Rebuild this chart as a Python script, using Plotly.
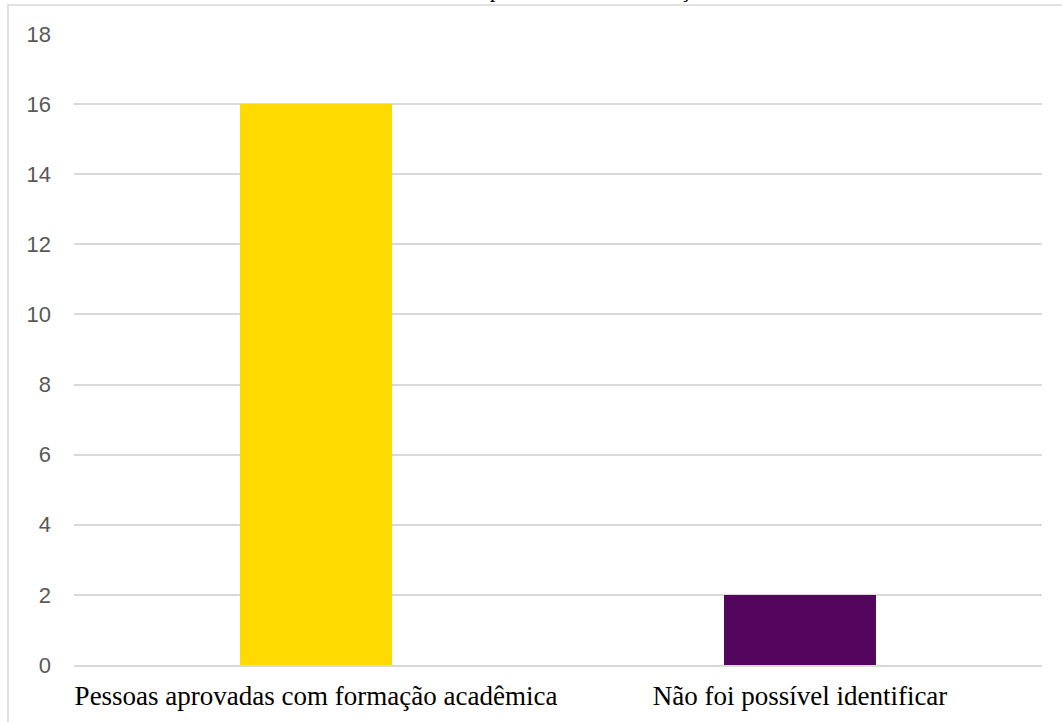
import plotly.graph_objects as go

categories = ["Pessoas aprovadas com formação acadêmica", "Não foi possível identificar"]
values = [16, 2]
bar_colors = ["#FFDA00", "#54065E"]
y_ticks = [0, 2, 4, 6, 8, 10, 12, 14, 16, 18]
title_text = "Número de aprovados com formação"

SERIF = "Times New Roman"

fig = go.Figure()
fig.add_trace(go.Bar(x=categories, y=values, marker=dict(color=bar_colors, line=dict(width=0)),
                     width=0.314, hoverinfo="x+y"))

fig.update_layout(
    width=1062, height=722,
    margin=dict(l=74, r=20, t=34, b=57),
    paper_bgcolor="white", plot_bgcolor="white",
    showlegend=False,
    font=dict(family=SERIF),
    xaxis=dict(showgrid=False, showline=True, linecolor="#d9d9d9", linewidth=1.5,
               tickfont=dict(family=SERIF, size=27, color="black"),
               ticks="", ticklabelstandoff=6, zeroline=False),
    yaxis=dict(range=[0, 18], tickvals=y_ticks, showgrid=True, gridcolor="#d9d9d9", gridwidth=1.5,
               zeroline=False, showline=False, ticks="",
               tickfont=dict(family="Liberation Sans", size=22, color="#595959"),
               ticklabelstandoff=22),
    shapes=[dict(type="rect", xref="paper", yref="paper", x0=-0.0682, x1=1.03, y0=-0.2, y1=1.046,
                 line=dict(color="#d9d9d9", width=1.5), fillcolor="rgba(0,0,0,0)", layer="below")],
    annotations=[dict(text=title_text, xref="paper", yref="paper", x=(541 - 74) / 968, y=1.047,
                      xanchor="center", yanchor="bottom", showarrow=False,
                      font=dict(family=SERIF, size=23, color="black"))],
)

fig.write_html("out.html")
